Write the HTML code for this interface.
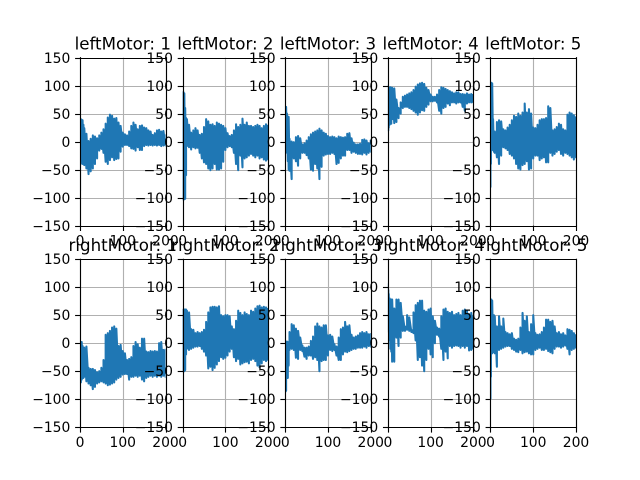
<!DOCTYPE html>
<html>
<head>
<meta charset="utf-8">
<title>Motor charts</title>
<style>
html,body{margin:0;padding:0;background:#fff;}
svg{display:block;}
text{font-family:"DejaVu Sans","Liberation Sans",sans-serif;fill:#000;}
</style>
</head>
<body>
<svg id="figure" width="640" height="480" viewBox="0 0 640 480" xmlns="http://www.w3.org/2000/svg"></svg>
<script>
const sampleTimes = [0,1,2,4,6,8,10,15,20,25,30,35,40,45,50,55,60,65,70,75,80,85,90,95,100,105,110,115,120,125,130,135,140,145,150,155,160,165,170,175,180,185,190,195,200];
const xTickValues = [0,100,200];
const yTickValues = [-150,-100,-50,0,50,100,150];

const leftMotor1Upper = [38,40,40,39,38,30,24,14,1,5,11,9,6,11,16,22,32,43,48,46,41,42,34,28,16,13,11,18,28,34,30,22,28,29,25,24,20,18,12,15,20,21,18,19,13];
const leftMotor1Lower = [-88,-40,-20,-35,-40,-38,-42,-48,-58,-53,-48,-40,-30,-16,-13,-20,-36,-40,-33,-28,-33,-31,-30,-18,-9,-6,-6,-8,-12,-13,-16,-10,-15,-15,-8,-6,-7,-6,-7,-6,-7,-6,-8,-7,-7];
const leftMotor2Upper = [60,88,88,86,60,42,40,30,16,20,24,20,12,14,26,40,36,30,31,28,34,32,30,28,24,15,10,12,20,31,26,30,41,30,34,28,28,26,28,30,28,24,28,31,30];
const leftMotor2Lower = [-60,-103,-103,-103,-102,-60,-8,-10,-14,-10,-12,-11,-20,-30,-37,-40,-48,-51,-48,-40,-50,-50,-48,-36,-15,-10,-8,-10,-20,-40,-51,-25,-46,-30,-28,-25,-22,-25,-28,-25,-30,-28,-32,-34,-32];
const leftMotor3Upper = [55,62,62,50,45,44,5,0,-1,8,10,6,-5,-3,2,8,13,16,18,20,23,20,16,14,10,8,9,8,6,9,8,7,8,14,15,6,-2,-5,-5,-4,3,4,2,-3,3];
const leftMotor3Lower = [10,0,-5,-20,-35,-50,-52,-67,-30,-35,-43,-30,-20,-20,-24,-30,-50,-52,-40,-48,-67,-45,-25,-23,-22,-22,-20,-22,-40,-38,-30,-25,-25,-15,-15,-20,-18,-20,-22,-22,-23,-20,-23,-20,-18];
const leftMotor4Upper = [100,98,96,96,97,96,96,95,75,60,70,80,82,84,86,88,92,98,102,104,105,103,96,92,84,80,80,84,92,97,96,94,92,90,88,86,88,88,85,85,84,86,84,85,85];
const leftMotor4Lower = [60,20,25,30,35,32,40,33,35,42,50,60,62,62,60,58,55,52,48,52,56,55,62,66,72,72,73,70,55,50,60,62,68,65,70,70,68,70,70,62,55,68,70,70,70];
const leftMotor5Upper = [90,105,105,104,40,18,18,35,38,36,22,20,25,30,38,46,44,50,46,52,68,52,58,50,25,24,30,38,40,40,42,63,60,20,22,26,32,30,22,20,48,52,50,47,45];
const leftMotor5Lower = [-82,-40,-15,-15,-15,-18,-20,-28,-40,-25,-10,-12,-15,-22,-25,-30,-40,-48,-50,-42,-40,-35,-50,-48,-30,-25,-25,-33,-30,-28,-37,-37,-20,-25,-22,-18,-15,-22,-25,-20,-22,-25,-28,-32,-28];
const rightMotor1Upper = [0,2,2,2,-5,-8,-8,-6,-44,-46,-46,-48,-52,-50,-44,-30,15,18,22,28,30,26,-5,-3,-14,-18,-30,-28,-25,-5,2,-2,-8,8,8,-15,-16,-14,-15,-14,-15,0,2,-12,-10];
const rightMotor1Lower = [-52,-60,-70,-65,-60,-62,-60,-68,-72,-75,-82,-78,-72,-70,-68,-70,-72,-75,-74,-72,-70,-65,-62,-60,-56,-55,-55,-65,-60,-60,-58,-60,-58,-65,-68,-62,-60,-58,-60,-58,-60,-58,-60,-58,-60];
const rightMotor2Upper = [5,30,60,60,60,60,58,55,25,24,18,20,18,20,24,38,55,64,65,65,64,66,50,48,50,50,48,30,25,40,58,54,50,55,52,50,58,56,62,66,67,64,65,64,63];
const rightMotor2Lower = [-50,-50,-50,-50,-48,-20,-10,-12,-10,-8,-6,-6,-5,-10,-15,-22,-45,-42,-48,-44,-38,-32,-25,-28,-26,-22,-15,-10,-25,-32,-28,-38,-36,-34,-33,-36,-30,-28,-32,-40,-43,-36,-30,-32,-30];
const rightMotor3Upper = [-5,2,2,3,2,1,20,34,32,26,22,10,-4,-8,-8,-6,4,12,30,35,30,28,32,32,14,15,12,-2,-6,10,25,28,38,30,32,15,10,12,14,18,20,18,20,16,18];
const rightMotor3Lower = [-85,-86,-85,-60,-62,-40,-12,-10,-12,-26,-28,-12,-14,-24,-28,-22,-22,-28,-25,-30,-50,-32,-30,-30,-22,-12,-14,-12,-22,-30,-30,-20,-15,-16,-14,-12,-10,-10,-8,-8,-8,-6,-8,-5,-6];
const rightMotor4Upper = [105,95,88,80,78,78,78,62,78,78,72,48,30,50,46,24,55,68,72,76,76,58,56,60,62,48,40,28,26,48,60,62,56,54,56,50,52,54,50,58,60,58,52,54,50];
const rightMotor4Lower = [50,25,20,5,-10,-15,-33,-33,10,-5,10,22,22,24,22,20,18,5,-30,-25,-40,-50,-30,-10,-20,-25,0,15,12,-10,-30,-15,-27,-5,-8,-5,-4,-5,-8,-5,-8,-5,-13,-12,-10];
const rightMotor5Upper = [40,78,78,76,50,50,48,30,48,30,44,20,18,16,18,8,6,8,28,54,40,48,20,34,50,18,15,16,20,28,42,42,38,40,30,18,20,16,18,14,25,24,22,18,16];
const rightMotor5Lower = [-100,-60,-18,-18,-16,-14,-18,-42,-12,-10,-8,-6,-5,-5,-10,-12,-15,-16,-12,-18,-16,-15,-18,-20,-20,-12,-10,-8,-12,-12,-10,-14,-16,-18,-10,-6,-6,-8,-6,-4,-10,-20,-12,-10,-8];

const panelTitles = ["leftMotor: 1","leftMotor: 2","leftMotor: 3","leftMotor: 4","leftMotor: 5","rightMotor: 1","rightMotor: 2","rightMotor: 3","rightMotor: 4","rightMotor: 5"];
const panelUppers = [leftMotor1Upper,leftMotor2Upper,leftMotor3Upper,leftMotor4Upper,leftMotor5Upper,rightMotor1Upper,rightMotor2Upper,rightMotor3Upper,rightMotor4Upper,rightMotor5Upper];
const panelLowers = [leftMotor1Lower,leftMotor2Lower,leftMotor3Lower,leftMotor4Lower,leftMotor5Lower,rightMotor1Lower,rightMotor2Lower,rightMotor3Lower,rightMotor4Lower,rightMotor5Lower];

const SVG_NS = "http://www.w3.org/2000/svg";
const figure = document.getElementById("figure");
const COLS = 5;
const plotWidth = 85.517;
const plotHeight = 168;
const hGap = plotWidth * 0.2;
const vGap = plotHeight * 0.2;
const originLeft = 80;
const originTop = 57.6;
const xMin = 0, xMax = 200, yMin = -150, yMax = 150;

function snap(v) { return Math.round(v) + 0.5; }
function makeSvg(tag, attrs) {
  const el = document.createElementNS(SVG_NS, tag);
  for (const key in attrs) el.setAttribute(key, attrs[key]);
  return el;
}
function slug(text) { return text.toLowerCase().replace(/[^a-z0-9]+/g, "-"); }

panelTitles.forEach(function (title, index) {
  const col = index % COLS;
  const row = Math.floor(index / COLS);
  const left = originLeft + col * (plotWidth + hGap);
  const top = originTop + row * (plotHeight + vGap);
  const right = left + plotWidth;
  const bottom = top + plotHeight;
  const xScale = function (v) { return left + (v - xMin) / (xMax - xMin) * plotWidth; };
  const yScale = function (v) { return bottom - (v - yMin) / (yMax - yMin) * plotHeight; };
  const name = slug(title);

  const group = makeSvg("g", {});
  
  
  figure.appendChild(group);

  const background = makeSvg("rect", {x: left, y: top, width: plotWidth, height: plotHeight, fill: "#fff"});
  
  
  group.appendChild(background);

  xTickValues.forEach(function (value) {
    const x = snap(xScale(value));
    const gridLine = makeSvg("line", {x1: x, x2: x, y1: top, y2: bottom, stroke: "#b0b0b0", "stroke-width": 1.11});
    
    
    group.appendChild(gridLine);
  });
  yTickValues.forEach(function (value) {
    const y = snap(yScale(value));
    const gridLine = makeSvg("line", {x1: left, x2: right, y1: y, y2: y, stroke: "#b0b0b0", "stroke-width": 1.11});
    
    
    group.appendChild(gridLine);
  });

  const clipId = "clip-" + index;
  const clip = makeSvg("clipPath", {id: clipId});
  clip.appendChild(makeSvg("rect", {x: left, y: top, width: plotWidth, height: plotHeight}));
  group.appendChild(clip);

  const upper = panelUppers[index];
  const lower = panelLowers[index];
  const points = [];
  sampleTimes.forEach(function (t, i) {
    points.push(xScale(t).toFixed(2) + "," + yScale(lower[i]).toFixed(2));
    points.push(xScale(t).toFixed(2) + "," + yScale(upper[i]).toFixed(2));
  });
  const series = makeSvg("polyline", {points: points.join(" "), fill: "none", stroke: "#1f77b4", "stroke-width": 2.08, "stroke-linejoin": "round", "clip-path": "url(#" + clipId + ")"});
  
  
  group.appendChild(series);

  const frame = [
    [snap(left), top - 0.5, snap(left), bottom + 1],
    [snap(right), top - 0.5, snap(right), bottom + 1],
    [left, snap(top), right + 1, snap(top)],
    [left, snap(bottom), right + 1, snap(bottom)]
  ];
  frame.forEach(function (s) {
    const spine = makeSvg("line", {x1: s[0], y1: s[1], x2: s[2], y2: s[3], stroke: "#000", "stroke-width": 1.11});
    
    
    group.appendChild(spine);
  });

  xTickValues.forEach(function (value) {
    const x = snap(xScale(value));
    const tick = makeSvg("line", {x1: x, x2: x, y1: bottom, y2: bottom + 5.4, stroke: "#000", "stroke-width": 1.11});
    
    
    group.appendChild(tick);
    const label = makeSvg("text", {x: xScale(value), y: bottom + 20, "text-anchor": "middle", "font-size": 13.89});
    
    
    label.textContent = String(value);
    group.appendChild(label);
  });
  yTickValues.forEach(function (value) {
    const y = snap(yScale(value));
    const tick = makeSvg("line", {x1: left - 4.9, x2: left + 0.5, y1: y, y2: y, stroke: "#000", "stroke-width": 1.11});
    
    
    group.appendChild(tick);
    const label = makeSvg("text", {x: left - 9.7, y: y + 4.6, "text-anchor": "end", "font-size": 13.89});
    
    
    label.textContent = String(value).replace("-", "\u2212");
    group.appendChild(label);
  });

  const titleText = makeSvg("text", {x: left + plotWidth / 2, y: top - 8.3, "text-anchor": "middle", "font-size": 16.67});
  
  
  titleText.textContent = title;
  group.appendChild(titleText);
});
</script>
</body>
</html>
